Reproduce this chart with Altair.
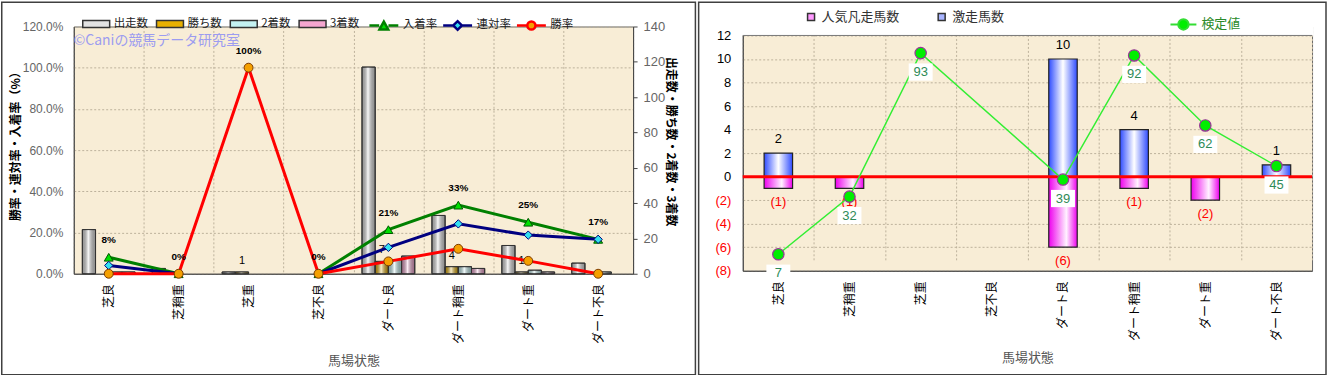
import altair as alt
import pandas as pd

LATIN = "Liberation Sans, Noto Sans CJK JP, sans-serif"
CJK = "Noto Sans CJK JP, sans-serif"

# ---------------- data ----------------
cats = ["芝良", "芝稍重", "芝重", "芝不良", "ダート良", "ダート稍重", "ダート重", "ダート不良"]

bar_series = ["出走数", "勝ち数", "2着数", "3着数"]
runs = [25, 3, 1, 0, 117, 33, 16, 6]
wins = [0, 0, 1, 0, 7, 4, 1, 0]
seconds = [1, 0, 0, 0, 8, 4, 2, 1]
thirds = [1, 0, 0, 0, 10, 3, 1, 0]
bar_colors = ["#e2e2e2", "#e8b000", "#c4f2f2", "#f4a6d0"]

rate_series = ["入着率", "連対率", "勝率"]
place_rate = [0.08, 0.0, None, 0.0, 0.214, 0.333, 0.25, 0.167]
quinella_rate = [0.04, 0.0, None, 0.0, 0.128, 0.242, 0.1875, 0.167]
win_rate = [0.0, 0.0, 1.0, 0.0, 0.06, 0.121, 0.0625, 0.0]
rate_colors = ["#008000", "#000080", "#ff0000"]
marker_fills = ["#00e000", "#33e0f0", "#f5a000"]
marker_strokes = ["#005500", "#000080", "#7a3a00"]

pct_labels = ["8%", "0%", "100%", "0%", "21%", "33%", "25%", "17%"]
pct_label_pos = [0.08, 0.0, 1.0, 0.0, 0.214, 0.333, 0.25, 0.167]
win_labels = ["", "", "1", "", "7", "4", "1", ""]

hot_series = ["人気凡走馬数", "激走馬数"]
flop = [1, 1, 0, 0, 6, 1, 2, 0]
surge = [2, 0, 0, 0, 10, 4, 0, 1]
test_labels = [7, 32, 93, None, 39, 92, 62, 45]
test_pos = [-6.6, -1.7, 10.5, None, -0.25, 10.3, 4.35, 0.9]

one = pd.DataFrame({"k": [0]})

# ---------------- helpers ----------------
def hgrad(stops):
    return alt.LinearGradient(
        gradient="linear", x1=0, x2=1, y1=0, y2=0,
        stops=[alt.GradientStop(offset=o, color=c) for o, c in stops],
    )

x_scale = alt.Scale(type="band", domain=cats, paddingInner=0, paddingOuter=0)


def x_axis():
    return alt.Axis(
        title="馬場状態", tickBand="extent", grid=True, labelAngle=-90,
        labelFontSize=12, labelFont=CJK, labelColor="#000", labelPadding=10,
        tickSize=0, titleY=87, titleBaseline="middle", titleFontSize=13,
        titleFontWeight="normal", titleColor="#555", titleFont=CJK,
    )


X = alt.X("cat:N", sort=cats, scale=x_scale, axis=x_axis())

# ---------------- left chart ----------------
LW, LH = 561, 248

bar_rows = []
for s, vals in zip(bar_series, [runs, wins, seconds, thirds]):
    for c, v in zip(cats, vals):
        if v > 0:
            bar_rows.append({"cat": c, "series": s, "count": v})
bar_df = pd.DataFrame(bar_rows)

cnt_scale = alt.Scale(domain=[0, 140], nice=False)
Y_CNT = alt.Y(
    "count:Q", scale=cnt_scale,
    axis=alt.Axis(
        orient="right", values=list(range(0, 141, 20)), grid=False, tickSize=4,
        labelPadding=6, labelFontSize=13, labelColor="#666", labelFont=LATIN,
        title="出走数・勝ち数・2着数・3着数", titleFont=CJK, titleFontSize=12,
        titleFontWeight="bold", titleColor="#000", titleX=38, titleY=115,
        titleBaseline="middle",
    ),
)
XOFF = alt.XOffset("series:N", sort=bar_series,
                   scale=alt.Scale(domain=bar_series, paddingInner=0, paddingOuter=0.65))

bars = alt.Chart(bar_df).mark_bar(stroke="#333", strokeWidth=1).encode(
    x=X, xOffset=XOFF, y=Y_CNT,
    color=alt.Color(
        "series:N", scale=alt.Scale(domain=bar_series, range=bar_colors),
        legend=alt.Legend(
            title=None, orient="none", legendX=8, legendY=-17, direction="horizontal",
            symbolType="M-1,-0.26H1V0.26H-1Z", symbolSize=729, symbolStrokeWidth=1.5,
            labelFont=CJK, labelFontSize=11.5, labelColor="#222", labelOffset=3,
            columnPadding=5, padding=0, gridAlign="none",
        ),
    ),
)
shine = alt.Chart(bar_df).mark_bar(
    fill=hgrad([(0, "rgba(0,0,0,0.3)"), (0.45, "rgba(255,255,255,0.8)"), (1, "rgba(0,0,0,0.35)")]),
    stroke="#333", strokeWidth=1,
).encode(x=X, xOffset=XOFF, y=Y_CNT)

wl = pd.DataFrame({"cat": cats, "series": "勝ち数", "count": wins, "label": win_labels})
wl = wl[wl["label"] != ""]
wtext = alt.Chart(wl).mark_text(baseline="bottom", dy=-6, fontSize=11, font=LATIN, color="#000").encode(
    x=X, xOffset=XOFF, y=Y_CNT, text="label:N"
)

count_group = alt.layer(bars, shine, wtext)

rate_rows = []
for name, vals in zip(rate_series, [place_rate, quinella_rate, win_rate]):
    seg = 0
    for c, v in zip(cats, vals):
        if v is None:
            seg += 1
            continue
        rate_rows.append({"cat": c, "series": name, "rate": v, "seg": f"{name}{seg}"})
rate_df = pd.DataFrame(rate_rows)

rate_scale = alt.Scale(domain=[0, 1.2], nice=False)
Y_RATE = alt.Y(
    "rate:Q", scale=rate_scale,
    axis=alt.Axis(
        orient="left", format=".1%", values=[0, 0.2, 0.4, 0.6, 0.8, 1.0, 1.2], grid=True,
        tickSize=0, labelPadding=11, labelFontSize=12, labelColor="#666", labelFont=LATIN,
        title="勝率・連対率・入着率（%）", titleFont=CJK, titleFontSize=12,
        titleFontWeight="bold", titleColor="#000", titleX=-58, titleY=117,
        titleBaseline="middle",
    ),
)

line_layers = []
for name, col in zip(rate_series, rate_colors):
    d = rate_df[rate_df["series"] == name]
    line_layers.append(
        alt.Chart(d).mark_line(strokeWidth=3, color=col).encode(x=X, y=Y_RATE, detail="seg:N")
    )

shapes = ["triangle-up", "diamond", "circle"]
sizes = [80, 70, 80]
point_layers = []
for name, shp, fl, st, sz in zip(rate_series, shapes, marker_fills, marker_strokes, sizes):
    d = rate_df[rate_df["series"] == name]
    point_layers.append(
        alt.Chart(d).mark_point(shape=shp, filled=True, fill=fl, stroke=st,
                                strokeWidth=1, size=sz, opacity=1).encode(x=X, y=Y_RATE)
    )

pct_df = pd.DataFrame({"cat": cats, "rate": pct_label_pos, "label": pct_labels})
pct_text = alt.Chart(pct_df).mark_text(
    baseline="bottom", dy=-12, fontSize=10, fontWeight="bold", font=LATIN, color="#000"
).encode(x=X, y=Y_RATE, text="label:N")

legend_paths = [
    "M-1,0H-0.32M0.32,0H1M-0.3,0.27L0,-0.27L0.3,0.27Z",
    "M-1,0H-0.3M0.3,0H1M-0.3,0L0,-0.3L0.3,0L0,0.3Z",
    "M-1,0H-0.3M0.3,0H1M-0.28,0A0.28,0.28 0 1,0 0.28,0A0.28,0.28 0 1,0 -0.28,0Z",
]


def rate_legend():
    return alt.Legend(
        title=None, orient="none", legendX=295, legendY=-17, direction="horizontal",
        symbolSize=841, symbolStrokeWidth=2.5, symbolOpacity=1, labelFont=CJK,
        labelFontSize=11.5, labelColor="#222", labelOffset=3, columnPadding=0, padding=0,
        gridAlign="none",
    )


leg_df = pd.DataFrame({"cat": [cats[0]] * 3, "series": rate_series, "rate": [0, 0, 0]})
rate_dummy = alt.Chart(leg_df).mark_point(filled=True, opacity=0).encode(
    x=X, y=Y_RATE,
    stroke=alt.Stroke("series:N", scale=alt.Scale(domain=rate_series, range=rate_colors), legend=rate_legend()),
    fill=alt.Fill("series:N", scale=alt.Scale(domain=rate_series, range=marker_fills), legend=rate_legend()),
    shape=alt.Shape("series:N", scale=alt.Scale(domain=rate_series, range=legend_paths), legend=rate_legend()),
)

left_frame = alt.Chart(one).mark_rect(fill="transparent", stroke="#404040", strokeWidth=1.5).encode(
    x=alt.value(-72.25), x2=alt.value(623.5), y=alt.value(-24.25), y2=alt.value(349.25)
)
watermark = alt.Chart(pd.DataFrame({"t": ["©Caniの競馬データ研究室"]})).mark_text(
    align="left", baseline="middle", fontSize=14, color="#9c9cf0", font=CJK
).encode(x=alt.value(0), y=alt.value(15), text="t:N")

rate_group = alt.layer(*line_layers, *point_layers, pct_text, rate_dummy)

left = alt.layer(left_frame, watermark, count_group, rate_group).resolve_scale(
    y="independent"
).properties(width=LW, height=LH)

# ---------------- right chart ----------------
# the right plot starts 9px lower than the left one; its y range leaves that strip empty
RW, RH = 571, 245
R_TOP = 9

Y_R = alt.Y(
    "v:Q", scale=alt.Scale(domain=[-8, 12], range=[RH, R_TOP], nice=False, zero=False),
    axis=alt.Axis(
        values=list(range(-8, 13, 2)), grid=True, tickSize=0, labelPadding=12,
        labelFontSize=13, labelFont=LATIN,
        labelExpr="datum.value < 0 ? '(' + abs(datum.value) + ')' : datum.label",
        labelColor={"condition": {"test": "datum.value < 0", "value": "#ff0000"}, "value": "#000000"},
        title=None,
    ),
)

flop_df = pd.DataFrame({"cat": cats, "v": [-f for f in flop], "label": [f"({f})" for f in flop]})
flop_df = flop_df[flop_df["v"] != 0]
surge_df = pd.DataFrame({"cat": cats, "v": surge, "label": [str(s) for s in surge]})
surge_df = surge_df[surge_df["v"] != 0]

flop_bars = alt.Chart(flop_df).mark_bar(
    width=alt.RelativeBandSize(0.4),
    fill=hgrad([(0, "#ee00ee"), (0.62, "#fff2ff"), (1, "#ee00ee")]),
    stroke="#222", strokeWidth=1.2,
).encode(x=X, y=Y_R)
surge_bars = alt.Chart(surge_df).mark_bar(
    width=alt.RelativeBandSize(0.4),
    fill=hgrad([(0, "#2f4cff"), (0.5, "#ffffff"), (1, "#2f4cff")]),
    stroke="#222", strokeWidth=1.2,
).encode(x=X, y=Y_R)

zero_rule = alt.Chart(pd.DataFrame({"v": [0]})).mark_rule(color="#ff0000", strokeWidth=3).encode(y=Y_R)
top_rule = alt.Chart(pd.DataFrame({"v": [12]})).mark_rule(color="#777", strokeWidth=1).encode(y=Y_R)
top_cover = alt.Chart(one).mark_rect(fill="#ffffff").encode(
    x=alt.value(-1), x2=alt.value(RW + 1), y=alt.value(-1), y2=alt.value(R_TOP)
)

flop_text = alt.Chart(flop_df).mark_text(baseline="top", dy=8, fontSize=13, font=LATIN, color="#ff0000").encode(
    x=X, y=Y_R, text="label:N"
)
surge_text = alt.Chart(surge_df).mark_text(baseline="bottom", dy=-7, fontSize=13, font=LATIN, color="#000").encode(
    x=X, y=Y_R, text="label:N"
)

test_rows = [
    {"cat": c, "v": p, "label": str(l)}
    for c, p, l in zip(cats, test_pos, test_labels)
    if p is not None
]
test_df = pd.DataFrame(test_rows)
test_line = alt.Chart(test_df).mark_line(color="#33ee33", strokeWidth=1.5).encode(x=X, y=Y_R)
test_pts = alt.Chart(test_df).mark_point(
    shape="circle", filled=True, fill="#00ee00", stroke="#993399", strokeWidth=1.2, size=130, opacity=1
).encode(x=X, y=Y_R)
test_box = alt.Chart(test_df).mark_point(
    shape="M-1,-0.72H1V0.72H-1Z", filled=True, fill="#ffffff", strokeOpacity=0, size=576, opacity=1, yOffset=19
).encode(x=X, y=Y_R)
test_text = alt.Chart(test_df).mark_text(dy=19, fontSize=13, font=LATIN, color="#2e8b57").encode(
    x=X, y=Y_R, text="label:N"
)

hot_leg_df = pd.DataFrame({"cat": [cats[0]] * 2, "v": [0, 0], "series": hot_series})
hot_dummy = alt.Chart(hot_leg_df).mark_point(filled=True, opacity=0, shape="square").encode(
    x=X, y=Y_R,
    color=alt.Color(
        "series:N", scale=alt.Scale(domain=hot_series, range=["#ff99ff", "#a8b4ff"]),
        legend=alt.Legend(
            title=None, orient="none", legendX=62, legendY=-16, direction="horizontal",
            symbolType="square", symbolSize=49, symbolStrokeColor="#333", symbolStrokeWidth=1.5,
            symbolOpacity=1, labelFont=CJK, labelFontSize=13, labelColor="#333",
            labelOffset=4, columnPadding=35, padding=0, gridAlign="none",
        ),
    ),
)


def test_legend():
    return alt.Legend(
        title=None, orient="none", legendX=428, legendY=-16, direction="horizontal",
        symbolSize=676, symbolStrokeWidth=2, symbolOpacity=1, labelFont=CJK,
        labelFontSize=13, labelColor="#2a8a2a", labelOffset=4, padding=0,
    )


tl_df = pd.DataFrame({"cat": [cats[0]], "v": [0], "series": ["検定値"]})
test_dummy = alt.Chart(tl_df).mark_point(filled=True, opacity=0).encode(
    x=X, y=Y_R,
    stroke=alt.Stroke("series:N", scale=alt.Scale(domain=["検定値"], range=["#33dd33"]), legend=test_legend()),
    fill=alt.Fill("series:N", scale=alt.Scale(domain=["検定値"], range=["#00ee00"]), legend=test_legend()),
    shape=alt.Shape(
        "series:N",
        scale=alt.Scale(domain=["検定値"], range=["M-1,0H-0.4M0.4,0H1M-0.4,0A0.4,0.4 0 1,0 0.4,0A0.4,0.4 0 1,0 -0.4,0Z"]),
        legend=test_legend(),
    ),
)

right_frame = alt.Chart(one).mark_rect(fill="transparent", stroke="#404040", strokeWidth=1.5).encode(
    x=alt.value(-44.25), x2=alt.value(585), y=alt.value(-24.25), y2=alt.value(349.25)
)

right = alt.layer(
    right_frame, top_cover, top_rule, flop_bars, surge_bars, zero_rule, flop_text, surge_text,
    test_line, test_pts, test_box, test_text, hot_dummy, test_dummy,
).properties(width=RW, height=RH)

chart = alt.concat(left, right, columns=2, spacing=0, align="none").resolve_scale(
    color="independent", fill="independent", stroke="independent", shape="independent",
    x="independent", y="independent",
).resolve_legend(
    color="independent", fill="independent", stroke="independent", shape="independent",
).properties(
    padding=0, background="white"
).configure_view(
    fill="#f8edd6", stroke="#666", strokeWidth=1
).configure_axis(
    gridColor="#bdb29c", gridDash=[2, 2], gridWidth=1, domainColor="#444", tickColor="#444"
)

chart.save("out.html", embed_options={"renderer": "svg", "actions": False})
